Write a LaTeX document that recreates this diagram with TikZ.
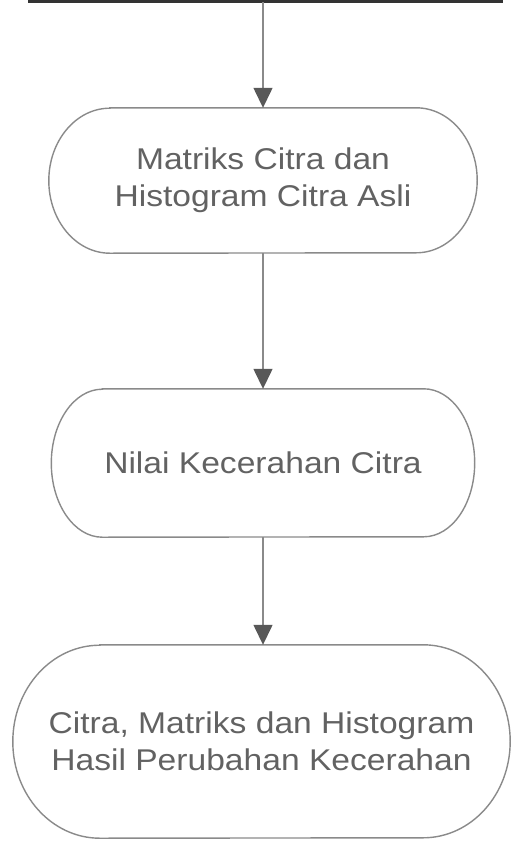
\documentclass[tikz,border=0pt]{standalone}
\usepackage{fontspec}
\usetikzlibrary{arrows.meta}
\newfontfamily\boxfont[FakeStretch=1.12]{Liberation Sans}
\definecolor{linegray}{HTML}{8A8A8A}
\definecolor{textgray}{HTML}{626262}
\definecolor{tipgray}{HTML}{585858}

\begin{document}
\begin{tikzpicture}[x=1pt, y=1pt,
    boxtext/.style={draw=none, inner sep=0pt, align=center, text=textgray,
        font=\boxfont\fontsize{30}{37}\selectfont},
    outline/.style={draw=linegray, line width=1.4pt},
    flow/.style={draw=linegray, line width=1.4pt,
        -{Triangle[length=20pt, width=19pt, color=tipgray]}}]
    \useasboundingbox (0,0) rectangle (512,-841);

    % edge of the box above
    \draw[line width=3pt, color=black!80] (28,-1) coordinate (topleft) -- (503,-1) coordinate (topright);
    \coordinate (topout) at (263,-2);

    % the three result boxes
    \node[boxtext, minimum width=428pt, minimum height=145pt] (asli) at (263,-180.5)
        {Matriks Citra dan\\Histogram Citra Asli};
    \node[boxtext, minimum width=423pt, minimum height=148pt] (terang) at (263,-463)
        {Nilai Kecerahan Citra};
    \node[boxtext, minimum width=497pt, minimum height=193pt] (hasil) at (261.5,-741.5)
        {Citra, Matriks dan Histogram\\Hasil Perubahan Kecerahan};

    % rounded outlines
    \foreach \n/\a/\b in {asli/61/72.5, terang/51/74, hasil/87/96.5}
        \draw[outline] ([xshift=\a pt]\n.north west) -- ([xshift=-\a pt]\n.north east)
            arc[start angle=90, end angle=-90, x radius=\a, y radius=\b]
            -- ([xshift=\a pt]\n.south west)
            arc[start angle=270, end angle=90, x radius=\a, y radius=\b] -- cycle;

    % arrows
    \draw[flow] (topout) -- (topout |- asli.north);
    \draw[flow] (asli.south) -- (terang.north);
    \draw[flow] (terang.south) -- (terang.south |- hasil.north);
\end{tikzpicture}
\end{document}
